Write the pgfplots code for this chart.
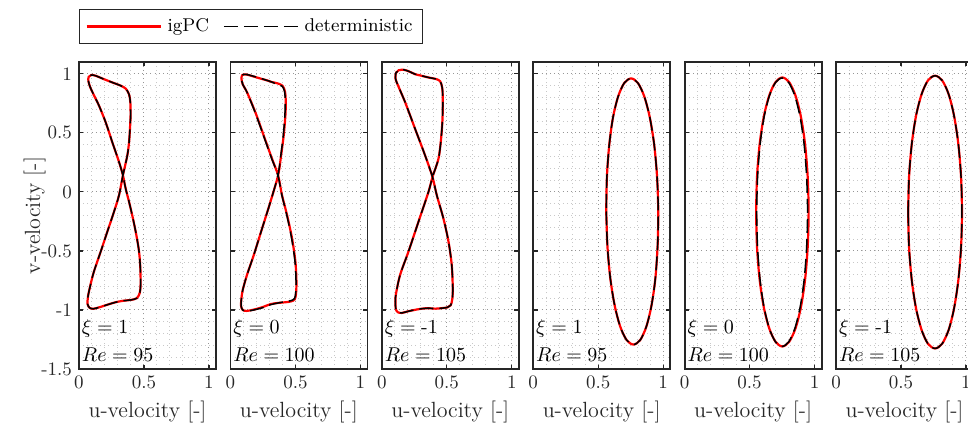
\documentclass[border=0pt]{standalone}
\usepackage{pgfplots}
\pgfplotsset{compat=1.18}
\definecolor{axgray}{RGB}{38,38,38}
\definecolor{gridlight}{RGB}{200,200,200}
\definecolor{griddark}{RGB}{150,150,150}

\tikzset{tag/.style={anchor=west, font=\fontsize{10}{12}\selectfont, text=black, inner sep=0pt}}

\pgfplotsset{
  limitcycle/.style={
    scale only axis, width=68.5pt, height=153.5pt,
    at={(#1*75.7pt,0pt)}, anchor=south west,
    xmin=0, xmax=1.054, ymin=-1.5, ymax=1.10,
    xtick={0,0.5,1}, xticklabels={0,0.5,1},
    ytick={-1.5,-1,-0.5,0,0.5,1}, yticklabels={},
    minor x tick num=4, minor y tick num=4,
    grid=both,
    minor grid style={draw=gridlight, line width=0.5pt, dash pattern=on 0.5pt off 1.6pt},
    major grid style={draw=griddark, line width=0.5pt, dash pattern=on 0.5pt off 1.6pt},
    tick align=inside, major tick length=2.2pt, minor tick length=0pt,
    axis line style={draw=axgray, line width=0.9pt},
    tick style={draw=axgray, line width=0.6pt},
    ticklabel style={font=\fontsize{9.5}{11}\selectfont, text=axgray},
    label style={font=\fontsize{11}{13}\selectfont, text=axgray},
    xlabel={u-velocity [-]},
    xlabel style={yshift=1pt},
  },
  igpc/.style={red, line width=1.1pt, smooth, tension=0.5},
  det/.style={black, line width=0.75pt, dash pattern=on 7pt off 3pt, smooth, tension=0.5},
}

\begin{document}
\begin{tikzpicture}

% xi = 1, Re = 95, figure-eight
\begin{axis}[limitcycle=0,
  yticklabels={-1.5,-1,-0.5,0,0.5,1},
  ylabel={v-velocity [-]}, ylabel shift=-9pt,
  legend columns=2,
  legend style={at={(0,1)}, anchor=south west, yshift=9pt,
    draw=axgray, line width=0.5pt, font=\fontsize{9.25}{11}\selectfont,
    inner xsep=3pt, inner ysep=2.5pt,
    /tikz/every odd column/.append style={column sep=1pt},
    /tikz/every even column/.append style={column sep=5pt}},
  legend image code/.code={\draw[#1] (0pt,0pt) -- (37pt,0pt);},
]
\addplot[igpc] coordinates {
(0.256,0.421) (0.308,0.253) (0.338,0.14) (0.359,0.028) (0.385,-0.084) (0.415,-0.225)
(0.441,-0.365) (0.462,-0.506) (0.472,-0.646) (0.474,-0.787) (0.467,-0.857) (0.445,-0.9)
(0.40,-0.915) (0.34,-0.922) (0.28,-0.935) (0.22,-0.955) (0.154,-0.978) (0.11,-0.99)
(0.082,-0.982) (0.066,-0.95) (0.07,-0.88) (0.09,-0.78) (0.115,-0.674) (0.167,-0.506)
(0.218,-0.337) (0.269,-0.169) (0.308,-0.028) (0.338,0.14) (0.372,0.31) (0.385,0.42)
(0.392,0.534) (0.397,0.646) (0.395,0.758) (0.385,0.826) (0.36,0.874) (0.32,0.9)
(0.256,0.927) (0.18,0.96) (0.13,0.983) (0.095,0.99) (0.075,0.975) (0.072,0.94)
(0.085,0.89) (0.11,0.83) (0.154,0.73) (0.205,0.59) (0.256,0.421)
};
\addlegendentry{igPC}
\addplot[det] coordinates {
(0.256,0.421) (0.308,0.253) (0.338,0.14) (0.359,0.028) (0.385,-0.084) (0.415,-0.225)
(0.441,-0.365) (0.462,-0.506) (0.472,-0.646) (0.474,-0.787) (0.467,-0.857) (0.445,-0.9)
(0.40,-0.915) (0.34,-0.922) (0.28,-0.935) (0.22,-0.955) (0.154,-0.978) (0.11,-0.99)
(0.082,-0.982) (0.066,-0.95) (0.07,-0.88) (0.09,-0.78) (0.115,-0.674) (0.167,-0.506)
(0.218,-0.337) (0.269,-0.169) (0.308,-0.028) (0.338,0.14) (0.372,0.31) (0.385,0.42)
(0.392,0.534) (0.397,0.646) (0.395,0.758) (0.385,0.826) (0.36,0.874) (0.32,0.9)
(0.256,0.927) (0.18,0.96) (0.13,0.983) (0.095,0.99) (0.075,0.975) (0.072,0.94)
(0.085,0.89) (0.11,0.83) (0.154,0.73) (0.205,0.59) (0.256,0.421)
};
\addlegendentry{deterministic}
\node[tag] at (0.02,-1.16) {$\xi = 1$};
\node[tag] at (0.02,-1.38) {$Re = 95$};
\end{axis}

% xi = 0, Re = 100, figure-eight
\begin{axis}[limitcycle=1]
\addplot[igpc] coordinates {
(0.256,0.478) (0.32,0.281) (0.367,0.14) (0.397,-0.028) (0.436,-0.197) (0.474,-0.393)
(0.5,-0.59) (0.508,-0.758) (0.505,-0.86) (0.495,-0.91) (0.465,-0.928) (0.42,-0.935)
(0.37,-0.94) (0.31,-0.95) (0.25,-0.975) (0.18,-0.997) (0.125,-1.008) (0.095,-1.0)
(0.082,-0.965) (0.085,-0.9) (0.095,-0.83) (0.128,-0.702) (0.18,-0.534) (0.244,-0.309)
(0.308,-0.084) (0.367,0.14) (0.39,0.309) (0.41,0.478) (0.423,0.646) (0.426,0.76)
(0.42,0.85) (0.4,0.9) (0.36,0.92) (0.32,0.93) (0.28,0.945) (0.231,0.96) (0.17,0.98)
(0.12,0.995) (0.092,0.99) (0.085,0.96) (0.095,0.91) (0.128,0.843) (0.192,0.674) (0.256,0.478)
};
\addplot[det] coordinates {
(0.254,0.478) (0.318,0.281) (0.366,0.14) (0.396,-0.028) (0.434,-0.197) (0.471,-0.393)
(0.497,-0.59) (0.505,-0.758) (0.502,-0.86) (0.492,-0.905) (0.462,-0.922) (0.42,-0.93)
(0.37,-0.94) (0.31,-0.955) (0.25,-0.98) (0.18,-1.0) (0.125,-1.01) (0.095,-1.0)
(0.082,-0.965) (0.085,-0.9) (0.095,-0.83) (0.128,-0.702) (0.18,-0.534) (0.244,-0.309)
(0.308,-0.084) (0.366,0.14) (0.388,0.309) (0.407,0.478) (0.419,0.646) (0.422,0.76)
(0.417,0.85) (0.398,0.895) (0.36,0.91) (0.32,0.93) (0.28,0.945) (0.231,0.962) (0.17,0.982)
(0.12,0.995) (0.092,0.99) (0.085,0.96) (0.095,0.91) (0.128,0.843) (0.19,0.674) (0.254,0.478)
};
\node[tag] at (0.02,-1.16) {$\xi = 0$};
\node[tag] at (0.02,-1.38) {$Re = 100$};
\end{axis}

% xi = -1, Re = 105, figure-eight
\begin{axis}[limitcycle=2]
\addplot[igpc] coordinates {
(0.256,0.534) (0.333,0.309) (0.39,0.126) (0.423,-0.028) (0.474,-0.225) (0.513,-0.421)
(0.538,-0.618) (0.546,-0.815) (0.542,-0.91) (0.53,-0.96) (0.505,-0.978) (0.46,-0.985)
(0.41,-0.989) (0.36,-0.985) (0.308,-0.989) (0.25,-1.0) (0.2,-1.012) (0.155,-1.025)
(0.125,-1.02) (0.108,-0.995) (0.105,-0.94) (0.108,-0.871) (0.141,-0.702) (0.205,-0.506)
(0.282,-0.253) (0.359,0.0) (0.39,0.126) (0.436,0.281) (0.456,0.449) (0.467,0.618)
(0.469,0.787) (0.465,0.88) (0.45,0.935) (0.42,0.955) (0.359,0.969) (0.30,0.985)
(0.256,0.997) (0.21,1.02) (0.17,1.034) (0.13,1.03) (0.11,1.01) (0.105,0.97)
(0.115,0.927) (0.18,0.758) (0.256,0.534)
};
\addplot[det] coordinates {
(0.256,0.534) (0.333,0.309) (0.39,0.126) (0.423,-0.028) (0.474,-0.225) (0.513,-0.421)
(0.538,-0.618) (0.546,-0.815) (0.542,-0.91) (0.53,-0.96) (0.505,-0.978) (0.46,-0.985)
(0.41,-0.989) (0.36,-0.985) (0.308,-0.989) (0.25,-1.0) (0.2,-1.012) (0.155,-1.025)
(0.125,-1.02) (0.108,-0.995) (0.105,-0.94) (0.108,-0.871) (0.141,-0.702) (0.205,-0.506)
(0.282,-0.253) (0.359,0.0) (0.39,0.126) (0.436,0.281) (0.456,0.449) (0.467,0.618)
(0.469,0.787) (0.465,0.88) (0.45,0.935) (0.42,0.955) (0.359,0.969) (0.30,0.985)
(0.256,0.997) (0.21,1.02) (0.17,1.034) (0.13,1.03) (0.11,1.01) (0.105,0.97)
(0.115,0.927) (0.18,0.758) (0.256,0.534)
};
\node[tag] at (0.02,-1.16) {$\xi = \mbox{-}1$};
\node[tag] at (0.02,-1.38) {$Re = 105$};
\end{axis}

% xi = 1, Re = 95, ellipse
\begin{axis}[limitcycle=3]
\addplot[igpc] coordinates {
(0.562,-0.166) (0.571,-0.458) (0.593,-0.730) (0.627,-0.963) (0.670,-1.142) (0.719,-1.255)
(0.771,-1.293) (0.823,-1.255) (0.870,-1.142) (0.910,-0.963) (0.940,-0.730) (0.957,-0.458)
(0.962,-0.166) (0.953,0.126) (0.931,0.398) (0.897,0.631) (0.854,0.810) (0.805,0.923)
(0.753,0.961) (0.701,0.923) (0.654,0.810) (0.614,0.631) (0.585,0.398) (0.567,0.126)
(0.562,-0.166)
};
\addplot[det] coordinates {
(0.562,-0.166) (0.571,-0.458) (0.593,-0.730) (0.627,-0.963) (0.670,-1.142) (0.719,-1.255)
(0.771,-1.293) (0.823,-1.255) (0.870,-1.142) (0.910,-0.963) (0.940,-0.730) (0.957,-0.458)
(0.962,-0.166) (0.953,0.126) (0.931,0.398) (0.897,0.631) (0.854,0.810) (0.805,0.923)
(0.753,0.961) (0.701,0.923) (0.654,0.810) (0.614,0.631) (0.585,0.398) (0.567,0.126)
(0.562,-0.166)
};
\node[tag] at (0.02,-1.16) {$\xi = 1$};
\node[tag] at (0.02,-1.38) {$Re = 95$};
\end{axis}

% xi = 0, Re = 100, ellipse
\begin{axis}[limitcycle=4]
\addplot[igpc] coordinates {
(0.550,-0.170) (0.557,-0.465) (0.577,-0.740) (0.609,-0.975) (0.651,-1.156) (0.700,-1.270)
(0.752,-1.309) (0.804,-1.270) (0.853,-1.156) (0.895,-0.975) (0.927,-0.740) (0.947,-0.465)
(0.954,-0.170) (0.947,0.125) (0.927,0.400) (0.895,0.635) (0.853,0.816) (0.804,0.930)
(0.752,0.969) (0.700,0.930) (0.651,0.816) (0.609,0.635) (0.577,0.400) (0.557,0.125)
(0.550,-0.170)
};
\addplot[det] coordinates {
(0.554,-0.172) (0.561,-0.466) (0.580,-0.741) (0.611,-0.976) (0.652,-1.157) (0.699,-1.270)
(0.750,-1.309) (0.801,-1.270) (0.848,-1.157) (0.889,-0.976) (0.920,-0.741) (0.939,-0.466)
(0.946,-0.172) (0.939,0.122) (0.920,0.397) (0.889,0.632) (0.848,0.813) (0.801,0.926)
(0.750,0.965) (0.699,0.926) (0.652,0.813) (0.611,0.632) (0.580,0.397) (0.561,0.122)
(0.554,-0.172)
};
\node[tag] at (0.02,-1.16) {$\xi = 0$};
\node[tag] at (0.02,-1.38) {$Re = 100$};
\end{axis}

% xi = -1, Re = 105, ellipse
\begin{axis}[limitcycle=5]
\addplot[igpc] coordinates {
(0.555,-0.171) (0.562,-0.470) (0.583,-0.749) (0.616,-0.988) (0.659,-1.171) (0.708,-1.287)
(0.762,-1.326) (0.816,-1.287) (0.866,-1.171) (0.908,-0.988) (0.941,-0.749) (0.962,-0.470)
(0.969,-0.171) (0.962,0.128) (0.941,0.407) (0.908,0.646) (0.866,0.829) (0.816,0.945)
(0.762,0.984) (0.708,0.945) (0.659,0.829) (0.616,0.646) (0.583,0.407) (0.562,0.128)
(0.555,-0.171)
};
\addplot[det] coordinates {
(0.555,-0.171) (0.562,-0.470) (0.583,-0.749) (0.616,-0.988) (0.659,-1.171) (0.708,-1.287)
(0.762,-1.326) (0.816,-1.287) (0.866,-1.171) (0.908,-0.988) (0.941,-0.749) (0.962,-0.470)
(0.969,-0.171) (0.962,0.128) (0.941,0.407) (0.908,0.646) (0.866,0.829) (0.816,0.945)
(0.762,0.984) (0.708,0.945) (0.659,0.829) (0.616,0.646) (0.583,0.407) (0.562,0.128)
(0.555,-0.171)
};
\node[tag] at (0.02,-1.16) {$\xi = \mbox{-}1$};
\node[tag] at (0.02,-1.38) {$Re = 105$};
\end{axis}

\pgfresetboundingbox
\path[use as bounding box] (-39.5pt,-28pt) rectangle (444.5pt,184.5pt);
\end{tikzpicture}
\end{document}
